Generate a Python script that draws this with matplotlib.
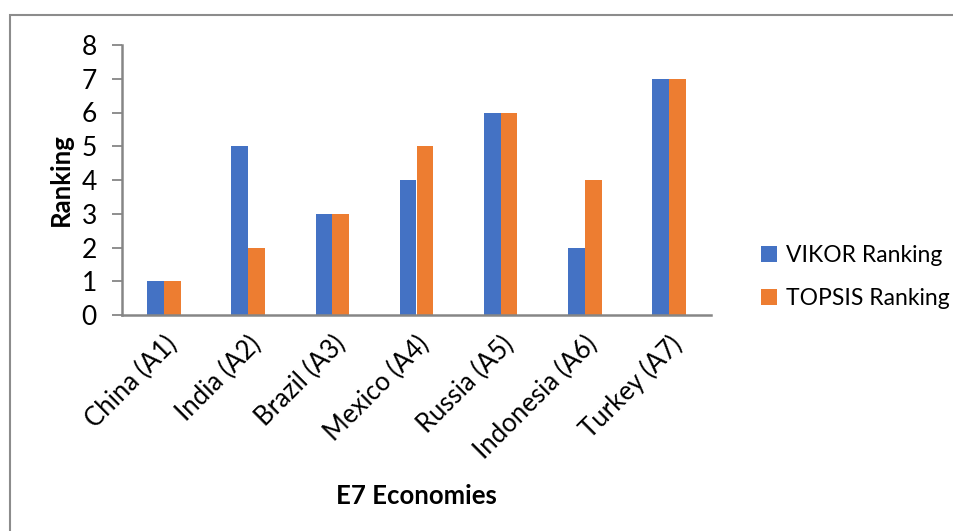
import matplotlib.pyplot as plt
import numpy as np
from matplotlib.patches import Rectangle

economies = ["China (A1)", "India (A2)", "Brazil (A3)", "Mexico (A4)",
             "Russia (A5)", "Indonesia (A6)", "Turkey (A7)"]
vikor_rank = [1, 5, 3, 4, 6, 2, 7]
topsis_rank = [1, 2, 3, 5, 6, 4, 7]

blue = "#4472C4"
orange = "#ED7D31"
axis_grey = "#868686"

plt.rcParams["font.family"] = ["Lato", "DejaVu Sans"]

W, H = 954, 531
fig = plt.figure(figsize=(W / 100, H / 100), dpi=100)

# chart-area frame (runs off the right and bottom edges)
fig.patches.append(Rectangle((10 / W, -0.1), 1.2, 1 - 15 / H + 0.1,
                             transform=fig.transFigure, fill=False,
                             edgecolor="#8c8c8c", linewidth=1.5))

ax = fig.add_axes([122 / W, 1 - 315 / H, (711 - 122) / W, (315 - 45) / H])

x = np.arange(len(economies))
bw = 0.2
ax.bar(x - bw / 2, vikor_rank, bw, color=blue, label="VIKOR Ranking")
ax.bar(x + bw / 2, topsis_rank, bw, color=orange, label="TOPSIS Ranking")

ax.set_xlim(-0.5, len(economies) - 0.5)
ax.set_ylim(0, 8)
ax.set_yticks(range(0, 9))
ax.set_xticks(x)
ax.set_xticklabels(economies, rotation=45, ha="right", rotation_mode="anchor",
                   fontsize=18.5)
ax.tick_params(axis="y", labelsize=19, length=7, width=1.3, color=axis_grey,
               pad=11)
ax.tick_params(axis="x", length=0, pad=12)

for side in ("top", "right"):
    ax.spines[side].set_visible(False)
for side in ("left", "bottom"):
    ax.spines[side].set_color(axis_grey)
    ax.spines[side].set_linewidth(1.8)

ax.set_ylabel("Ranking", fontsize=18.5, fontweight="bold", labelpad=6)
ax.set_xlabel("E7 Economies", fontsize=18.5, fontweight="bold")
ax.xaxis.set_label_coords(0.5, (315 - 484) / (315 - 45))

ax.legend(loc="center left", bbox_to_anchor=(740 / W, 1 - 277 / H),
          bbox_transform=fig.transFigure, frameon=False, fontsize=16.5,
          handlelength=0.7, handleheight=0.7, handletextpad=0.4,
          labelspacing=0.95)

fig.savefig("out.png", dpi=100)
